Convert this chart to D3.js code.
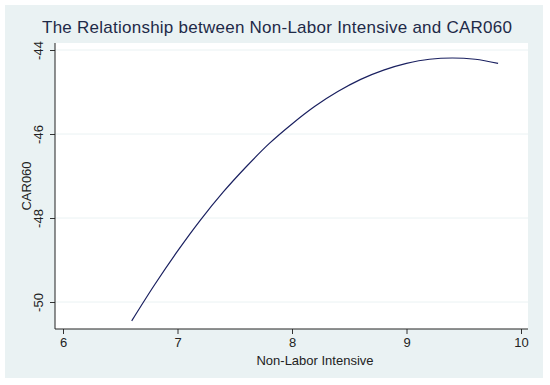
<!DOCTYPE html>
<html>
<head>
<meta charset="utf-8">
<script src="https://cdn.jsdelivr.net/npm/d3@7"></script>
<style>
  body { margin: 0; background: #fff; }
  text { font-family: "Liberation Sans", Arial, sans-serif; }
</style>
</head>
<body>
<div id="chart"></div>
<script>
// Fitted curve values
var xValues = [6.6, 6.8, 7.0, 7.2, 7.4, 7.6, 7.8, 8.0, 8.2, 8.4, 8.6, 8.8, 9.0, 9.2, 9.4, 9.6, 9.8];
var yValues = [-50.45, -49.59, -48.79, -48.05, -47.38, -46.78, -46.23, -45.76, -45.34, -44.99, -44.70, -44.48, -44.32, -44.22, -44.19, -44.22, -44.32];
var xTicks = [6, 7, 8, 9, 10];
var yTicks = [-44, -46, -48, -50];

var w = 550, h = 385;
// plot region
var plotLeft = 55, plotRight = 528, plotTop = 43, plotBottom = 329;

var svg = d3.select("#chart").append("svg")
    .attr("width", w)
    .attr("height", h);

// outer graph background
svg.append("rect")
    .attr("x", 5).attr("y", 5)
    .attr("width", 538).attr("height", 373)
    .attr("fill", "#eaf2f3");

// plot region
svg.append("rect")
    .attr("x", plotLeft).attr("y", plotTop)
    .attr("width", plotRight - plotLeft).attr("height", plotBottom - plotTop)
    .attr("fill", "#ffffff");

var xScale = d3.scaleLinear().domain([6, 10]).range([63, 521]);
var yScale = d3.scaleLinear().domain([-50, -44]).range([302, 50]);

// gridlines
svg.selectAll(".grid")
    .data(yTicks)
    .enter().append("line")
    .attr("class", "grid")
    .attr("x1", plotLeft).attr("x2", plotRight)
    .attr("y1", function (d) { return yScale(d); })
    .attr("y2", function (d) { return yScale(d); })
    .attr("stroke", "#eaf2f3")
    .attr("stroke-width", 1);

// x axis
var xAxis = d3.axisBottom(xScale).tickValues(xTicks).tickSize(5).tickSizeOuter(0)
    .tickFormat(function (d) { return String(d); });
var gx = svg.append("g")
    .attr("transform", "translate(0," + plotBottom + ")")
    .call(xAxis);
gx.select(".domain").remove();
gx.selectAll("line").attr("stroke", "#333");
gx.selectAll("text")
    .attr("y", 9)
    .attr("fill", "#222")
    .style("font-size", "13px")
    .style("font-family", "Liberation Sans, Arial, sans-serif");

// y axis
var yAxis = d3.axisLeft(yScale).tickValues(yTicks).tickSize(5).tickSizeOuter(0)
    .tickFormat(function (d) { return String(d); });
var gy = svg.append("g")
    .attr("transform", "translate(" + plotLeft + ",0)")
    .call(yAxis);
gy.select(".domain").remove();
gy.selectAll("line").attr("stroke", "#333");
gy.selectAll("text")
    .attr("x", 0).attr("dy", 0)
    .attr("text-anchor", "middle")
    .attr("fill", "#222")
    .style("font-size", "13px")
    .style("font-family", "Liberation Sans, Arial, sans-serif")
    .attr("transform", "translate(-12,0) rotate(-90)");

// axis lines
svg.append("line")
    .attr("x1", plotLeft).attr("x2", plotLeft)
    .attr("y1", plotTop).attr("y2", plotBottom)
    .attr("stroke", "#222").attr("stroke-width", 1);
svg.append("line")
    .attr("x1", plotLeft).attr("x2", plotRight)
    .attr("y1", plotBottom).attr("y2", plotBottom)
    .attr("stroke", "#222").attr("stroke-width", 1);

// fitted line
var points = xValues.map(function (d, i) { return [d, yValues[i]]; });
var line = d3.line()
    .x(function (d) { return xScale(d[0]); })
    .y(function (d) { return yScale(d[1]); })
    .curve(d3.curveMonotoneX);
svg.append("path")
    .datum(points)
    .attr("d", line)
    .attr("fill", "none")
    .attr("stroke", "#1a2060")
    .attr("stroke-width", 1.2);

// title
svg.append("text")
    .attr("x", 42).attr("y", 33)
    .attr("fill", "#1e2a48")
    .style("font-size", "17px")
    .attr("textLength", 470)
    .text("The Relationship between Non-Labor Intensive and CAR060");

// axis titles
svg.append("text")
    .attr("x", 315).attr("y", 365)
    .attr("text-anchor", "middle")
    .attr("fill", "#222")
    .style("font-size", "13px")
    .text("Non-Labor Intensive");

svg.append("text")
    .attr("transform", "translate(31,186) rotate(-90)")
    .attr("text-anchor", "middle")
    .attr("fill", "#222")
    .style("font-size", "13px")
    .text("CAR060");
</script>
</body>
</html>
